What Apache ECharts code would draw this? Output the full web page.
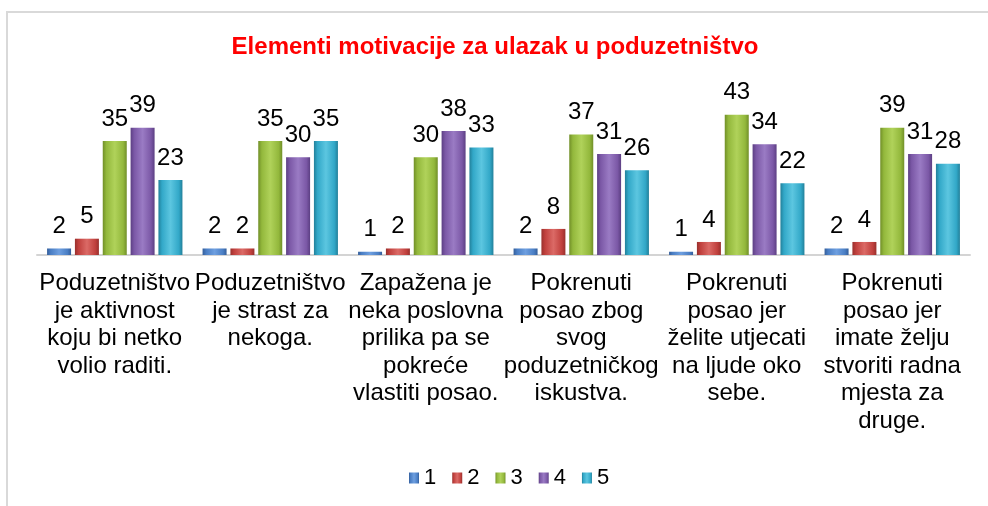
<!DOCTYPE html>
<html>
<head>
<meta charset="utf-8">
<script src="https://cdn.jsdelivr.net/npm/echarts@6/dist/echarts.min.js"></script>
<style>html,body{margin:0;padding:0;background:#fff}#c{width:988px;height:506px}</style>
</head>
<body>
<div id="c"></div>
<script>
var titleText = 'Elementi motivacije za ulazak u poduzetništvo';
var categories = [
  'Poduzetništvo\nje aktivnost\nkoju bi netko\nvolio raditi.',
  'Poduzetništvo\nje strast za\nnekoga.',
  'Zapažena je\nneka poslovna\nprilika pa se\npokreće\nvlastiti posao.',
  'Pokrenuti\nposao zbog\nsvog\npoduzetničkog\niskustva.',
  'Pokrenuti\nposao jer\nželite utjecati\nna ljude oko\nsebe.',
  'Pokrenuti\nposao jer\nimate želju\nstvoriti radna\nmjesta za\ndruge.'
];
var seriesNames = ['1', '2', '3', '4', '5'];
var s1 = [2, 2, 1, 2, 1, 2];
var s2 = [5, 2, 2, 8, 4, 4];
var s3 = [35, 35, 30, 37, 43, 39];
var s4 = [39, 30, 38, 31, 34, 31];
var s5 = [23, 35, 33, 26, 22, 28];
var seriesData = [s1, s2, s3, s4, s5];
var baseColors = ['#4A7EC4', '#C0403D', '#93B83C', '#7B58A6', '#32A8C8'];
var lightColors = ['#6E9FE0', '#DB6A66', '#B0D25A', '#9A7BC4', '#5CC6E0'];
var darkColors = ['#345E9A', '#98302D', '#718F28', '#5C3F83', '#22809A'];

function grad(i) {
  return new echarts.graphic.LinearGradient(0, 0, 1, 0, [
    {offset: 0, color: darkColors[i]},
    {offset: 0.15, color: baseColors[i]},
    {offset: 0.5, color: lightColors[i]},
    {offset: 0.85, color: baseColors[i]},
    {offset: 1, color: darkColors[i]}
  ]);
}

var chart = echarts.init(document.getElementById('c'));
var series = seriesData.map(function (d, i) {
  return {
    name: seriesNames[i],
    type: 'bar',
    data: d,
    barWidth: 24,
    barGap: '16%',
    itemStyle: {color: grad(i)},
    label: {
      show: true,
      position: 'top',
      distance: 10,
      color: '#000',
      fontSize: 24,
      fontFamily: 'Liberation Sans, Arial, sans-serif'
    }
  };
});

chart.setOption({
  backgroundColor: '#fff',
  animation: false,
  color: baseColors,
  graphic: [{
    type: 'rect',
    shape: {x: 7, y: 12, width: 1000, height: 600},
    style: {fill: 'none', stroke: '#d9d9d9', lineWidth: 2},
    silent: true,
    z: -10
  }],
  title: {
    text: titleText,
    left: 490,
    textAlign: 'center',
    top: 30,
    textStyle: {
      color: '#FF0000',
      fontSize: 24,
      fontWeight: 'bold',
      fontFamily: 'Liberation Sans, Arial, sans-serif'
    }
  },
  legend: {
    left: 404,
    top: 462,
    itemWidth: 10,
    itemHeight: 11,
    itemGap: 16,
    icon: 'rect',
    textStyle: {
      color: '#000',
      fontSize: 22,
      fontFamily: 'Liberation Sans, Arial, sans-serif',
      padding: [0, 0, 0, 0]
    },
    data: seriesNames.map(function (n, i) {
      return {name: n, itemStyle: {color: grad(i)}};
    })
  },
  grid: {left: 37, right: 18, top: 92, bottom: 251, containLabel: false},
  xAxis: {
    type: 'category',
    data: categories,
    axisLine: {show: true, lineStyle: {color: '#d4d4d4', width: 2}},
    axisTick: {show: false},
    axisLabel: {
      interval: 0,
      margin: 15,
      color: '#000',
      fontSize: 24,
      lineHeight: 27.5,
      align: 'center',
      fontFamily: 'Liberation Sans, Arial, sans-serif'
    }
  },
  yAxis: {
    type: 'value',
    min: 0,
    max: 50,
    show: false,
    splitLine: {show: false}
  },
  series: series
});
</script>
</body>
</html>
